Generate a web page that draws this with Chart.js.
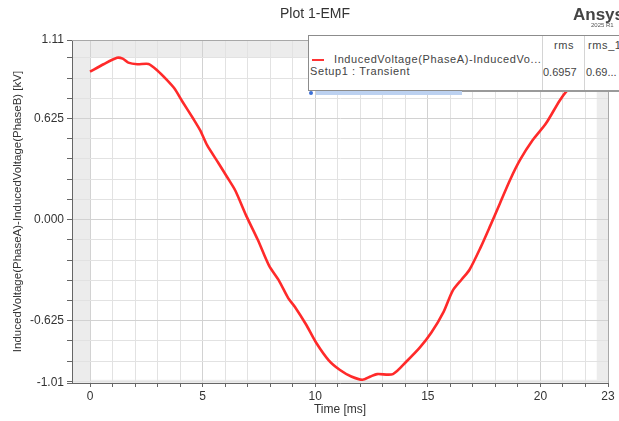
<!DOCTYPE html>
<html>
<head>
<meta charset="utf-8">
<title>Plot 1-EMF</title>
<script src="https://cdn.jsdelivr.net/npm/chart.js@4.4.1/dist/chart.umd.min.js"></script>
<style>
  html, body { margin: 0; padding: 0; background: #fff; overflow: hidden; }
  #wrap { position: relative; width: 619px; height: 421px; font-family: "Liberation Sans", Arial, sans-serif; color: #333; }
  #plot { position: absolute; left: 0; top: 0; }
  .title { position: absolute; left: 0; width: 630px; top: 5px; text-align: center; font-size: 14px; }
  .brand { position: absolute; left: 573px; top: 5px; font-size: 17px; font-weight: bold; color: #444; white-space: nowrap; }
  .brand-sub { position: absolute; left: 591px; top: 22px; font-size: 6px; color: #555; white-space: nowrap; }
  .legend { position: absolute; left: 308px; top: 35px; width: 330px; height: 54px; background: #fff;
            border: 1px solid #8c8c8c; font-size: 11px; letter-spacing: 0.6px; color: #444; }
  .legend .col { position: absolute; top: 0; bottom: 0; border-left: 1px solid #d4d4d4; }
  .legend span { position: absolute; white-space: nowrap; }
  .legend .swatch { position: absolute; left: 3px; top: 23px; width: 12px; height: 2px; background: #ff3333; }
  .scroll { position: absolute; left: 308px; top: 90px; width: 311px; height: 6px; }
  .scroll .bar { position: absolute; left: 8px; top: 1px; width: 146px; height: 4px; background: #bcd1f0; }
  .scroll .edge { position: absolute; left: 154px; top: 0; width: 160px; height: 2px; background: #9a9a9a; }
  .scroll .arrow { position: absolute; left: 1px; top: 1px; width: 4px; height: 4px; background: #3b6fd6; border-radius: 2px; }
</style>
</head>
<body>
<div id="wrap">
  <canvas id="plot" width="619" height="421"></canvas>
  <div class="title">Plot 1-EMF</div>
  <div class="brand">Ansys</div>
  <div class="brand-sub">2025 R1</div>
  <div class="legend">
    <div class="col" style="left:233px"></div>
    <div class="col" style="left:275px"></div>
    <span style="left:245px; top:3px">rms</span>
    <span style="left:279px; top:3px">rms_1</span>
    <div class="swatch"></div>
    <span style="left:25px; top:17px">InducedVoltage(PhaseA)-InducedVo...</span>
    <span style="left:1px; top:29px">Setup1 : Transient</span>
    <span style="left:234px; top:30px; letter-spacing:0">0.6957</span>
    <span style="left:277px; top:30px; letter-spacing:0">0.69...</span>
  </div>
  <div class="scroll"><div class="arrow"></div><div class="bar"></div><div class="edge"></div></div>
</div>
<script>
// EMF trace, time in ms, voltage in kV
const timeMs = [
  0.0, 0.6, 1.2, 1.45, 1.7, 2.1, 2.6, 3.0, 3.4, 3.75,
  4.1, 4.6, 4.9, 5.2, 5.7, 6.1, 6.45, 6.95, 7.45, 7.95,
  8.4, 8.8, 9.1, 9.6, 10.05, 10.6, 11.1, 11.6, 12.1, 12.45,
  12.75, 13.45, 14.05, 14.65, 15.15, 15.7, 16.1, 16.5, 16.85, 17.35,
  17.75, 18.2, 18.65, 19.1, 19.65, 20.25, 20.85, 21.2, 21.7, 22.1, 22.5
];
const voltageKV = [
  0.914, 0.96, 1.0, 0.995, 0.97, 0.96, 0.962, 0.92, 0.865, 0.81,
  0.73, 0.62, 0.55, 0.46, 0.35, 0.26, 0.18, 0.02, -0.125, -0.285,
  -0.38, -0.485, -0.54, -0.65, -0.763, -0.87, -0.93, -0.97, -0.99, -0.97,
  -0.955, -0.955, -0.877, -0.79, -0.7, -0.57, -0.44, -0.37, -0.31, -0.17,
  -0.045, 0.1, 0.245, 0.37, 0.49, 0.595, 0.735, 0.8, 0.87, 0.92, 0.96
];

// axis layout
const xMin = -0.8, xMax = 23;
const yMin = -1.01, yMax = 1.11;
const xTickStep = 1;
const xLabelTicks = [0, 5, 10, 15, 20, 23];
const yMinorStep = 0.125;
const yLabelTicks = [1.11, 0.625, 0, -0.625, -1.01];

const points = timeMs.map((t, i) => ({ x: t, y: voltageKV[i] }));
const dataXMin = Math.min(...timeMs), dataXMax = Math.max(...timeMs);
const dataYMin = Math.min(...voltageKV), dataYMax = Math.max(...voltageKV);

const near = (a, b) => Math.abs(a - b) < 1e-6;
const isYLabel = v => yLabelTicks.some(l => near(l, v));
const isXLabel = v => xLabelTicks.some(l => near(l, v));

const yFormat = v => {
  if (near(v, 0)) return "0.000";
  if (near(Math.abs(v), 0.625)) return v.toFixed(3);
  return v.toFixed(2);
};

// light grey bands outside the data extents, plus frame on the plot area
const extentBands = {
  id: "extentBands",
  beforeDraw(chart) {
    const { ctx, chartArea: a, scales: { x, y } } = chart;
    ctx.save();
    ctx.fillStyle = "#ececec";
    const x0 = x.getPixelForValue(dataXMin), x1 = x.getPixelForValue(dataXMax);
    const y0 = y.getPixelForValue(dataYMax), y1 = y.getPixelForValue(dataYMin);
    ctx.fillRect(a.left, a.top, x0 - a.left, a.height);
    ctx.fillRect(x1, a.top, a.right - x1, a.height);
    ctx.fillRect(a.left, a.top, a.width, y0 - a.top);
    ctx.fillRect(a.left, y1, a.width, a.bottom - y1);
    ctx.restore();
  },
  afterDraw(chart) {
    const { ctx, chartArea: a } = chart;
    ctx.save();
    ctx.strokeStyle = "#a8a8a8";
    ctx.lineWidth = 1;
    ctx.beginPath();
    ctx.moveTo(a.left, a.top + 0.5);
    ctx.lineTo(a.right + 0.5, a.top + 0.5);
    ctx.lineTo(a.right + 0.5, a.bottom);
    ctx.stroke();
    ctx.restore();
  }
};

const font = "'Liberation Sans', Arial, sans-serif";

new Chart(document.getElementById("plot"), {
  type: "line",
  data: {
    datasets: [{
      label: "InducedVoltage(PhaseA)-InducedVoltage(PhaseB)",
      data: points,
      borderColor: "#ff2a2a",
      borderWidth: 2.6,
      pointRadius: 0,
      tension: 0.25,
      fill: false
    }]
  },
  options: {
    responsive: false,
    animation: false,
    layout: { padding: { top: 40, right: 11, left: 0, bottom: 0 } },
    plugins: { legend: { display: false }, tooltip: { enabled: false } },
    scales: {
      x: {
        type: "linear",
        min: xMin,
        max: xMax,
        afterFit: s => { s.height = 38; },
        afterBuildTicks: s => {
          const ticks = [];
          for (let v = 0; v <= xMax + 1e-9; v += xTickStep) ticks.push({ value: v });
          s.ticks = ticks;
        },
        ticks: {
          autoSkip: false,
          maxRotation: 0,
          padding: 2,
          color: "#333",
          font: { family: font, size: 12 },
          callback: v => (isXLabel(v) ? String(v) : "")
        },
        grid: {
          color: ctx => (ctx.tick && isXLabel(ctx.tick.value) ? "#d2d2d2" : "#e2e2e2"),
          tickColor: "#666",
          tickLength: 4
        },
        border: { color: "#666", width: 1 },
        title: {
          display: true,
          text: "Time [ms]",
          color: "#333",
          font: { family: font, size: 12 },
          padding: { top: 0, bottom: 4 }
        }
      },
      y: {
        type: "linear",
        min: yMin,
        max: yMax,
        afterFit: s => { s.width = 72; },
        afterBuildTicks: s => {
          const ticks = [{ value: yMin }];
          for (let k = Math.ceil(yMin / yMinorStep); k * yMinorStep <= yMax; k++) {
            const v = k * yMinorStep;
            if (!near(v, yMin) && !near(v, yMax)) ticks.push({ value: v });
          }
          ticks.push({ value: yMax });
          s.ticks = ticks;
        },
        ticks: {
          autoSkip: false,
          padding: 3,
          color: "#333",
          font: { family: font, size: 12 },
          callback: v => (isYLabel(v) ? yFormat(v) : "")
        },
        grid: {
          color: ctx => (ctx.tick && isYLabel(ctx.tick.value) ? "#d2d2d2" : "#e2e2e2"),
          tickColor: "#666",
          tickLength: 5
        },
        border: { color: "#666", width: 1 },
        title: {
          display: true,
          text: "InducedVoltage(PhaseA)-InducedVoltage(PhaseB) [kV]",
          color: "#333",
          font: { family: font, size: 11.5 },
          padding: { top: 11, bottom: 0 }
        }
      }
    }
  },
  plugins: [extentBands]
});
</script>
</body>
</html>
